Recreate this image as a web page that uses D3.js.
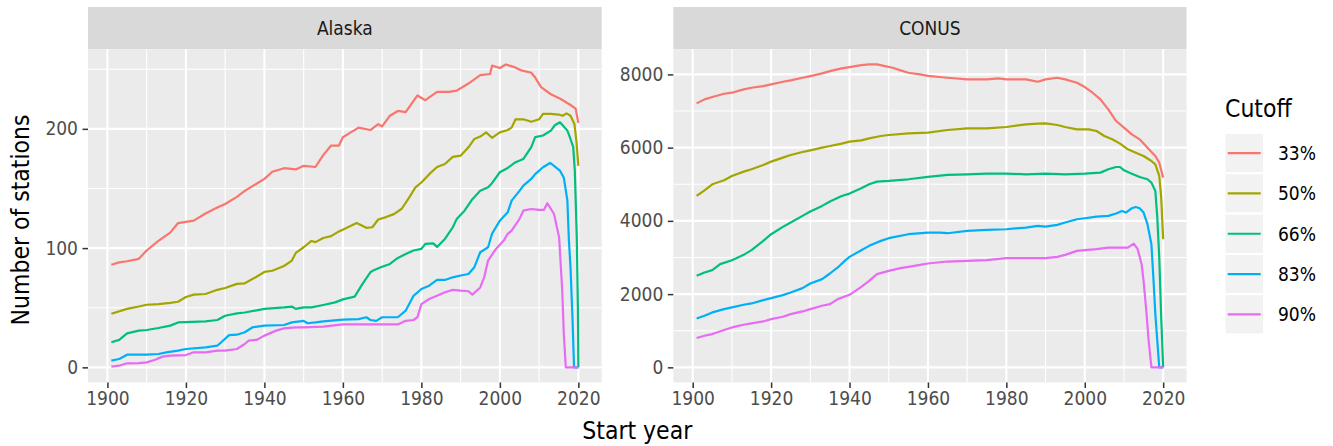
<!DOCTYPE html>
<html>
<head>
<meta charset="utf-8">
<script src="https://cdn.jsdelivr.net/npm/d3@7"></script>
<style>
  body { margin: 0; background: #fff; }
  svg text { font-family: "DejaVu Sans Condensed", "DejaVu Sans", sans-serif; font-stretch: condensed; }
</style>
</head>
<body>
<svg id="chart" width="1333" height="446"></svg>
<script>
// ---- data ----
const cutoffs = ["33%", "50%", "66%", "83%", "90%"];
const cutoffColors = ["#F8766D", "#A3A500", "#00BF7D", "#00B0F6", "#E76BF3"];
const regions = ["Alaska", "CONUS"];
const xTicks = [1900, 1920, 1940, 1960, 1980, 2000, 2020];
const alaskaYTicks = [0, 100, 200];
const conusYTicks = [0, 2000, 4000, 6000, 8000];

const alaska33 = [[1901,86],[1903,88],[1905,89],[1908,91],[1910,98],[1913,106],[1916,113],[1918,121],[1920,122],[1922,123],[1925,129],[1928,134],[1930,137],[1933,143],[1935,148],[1938,154],[1940,158],[1942,164],[1945,167],[1948,166],[1950,169],[1953,168],[1955,178],[1957,186],[1959,186],[1960,193],[1962,197],[1964,201],[1967,199],[1969,204],[1970,202],[1972,211],[1974,215],[1976,214],[1979,228],[1981,224],[1984,231],[1987,231],[1989,232],[1992,238],[1995,245],[1997.5,246],[1998,253],[2000,251],[2001.5,254],[2003.5,252],[2005.5,249],[2008,247],[2009,243],[2010.5,235],[2013,229],[2015.5,225],[2018,220],[2019.3,217],[2020,205]];
const alaska50 = [[1901,45],[1905,49],[1908,51],[1910,52.5],[1913,53],[1916,54],[1918,55],[1920,59],[1922,61],[1925,61.5],[1928,65],[1930,66.5],[1933,70],[1935,70.5],[1938,76],[1940,80],[1942,81],[1945,85],[1947,89.5],[1948,96],[1950,100.7],[1952,106],[1953,105],[1955,108.5],[1957,110],[1959,114],[1961,117],[1963.5,121],[1966,117],[1967.5,117.5],[1969,124],[1971,126],[1973,128.5],[1975,133],[1977,143],[1978.5,151],[1980,155],[1982,162],[1984,168],[1986,170.5],[1988,176.5],[1990,177.5],[1992,184.5],[1993.5,191.5],[1995,193.5],[1996.5,197],[1998,192.5],[2000,197],[2002,199],[2003,201],[2004,208],[2006,208],[2008,206],[2010,208],[2011,212.5],[2013,212.5],[2015,212],[2016,211],[2017,213],[2018,211],[2019,204],[2019.5,190],[2020,169]];
const alaska66 = [[1901,21],[1903,23],[1905,28.5],[1908,30.8],[1910,31.3],[1913,33],[1916,35],[1918,37.7],[1925,38.6],[1928,39.7],[1930,43.3],[1933,45.3],[1935,46],[1940,49],[1945,50.3],[1947,51],[1948,49],[1950,50.3],[1952,50.3],[1955,52.3],[1958,54.5],[1960,57],[1963,59.3],[1965,70],[1967,79.7],[1968,81.7],[1970,84.4],[1972,86.7],[1974,91.7],[1976,95],[1978,98],[1980,99.3],[1981,103.5],[1983,104],[1984,101],[1986,107.7],[1988,117.4],[1989,124.4],[1991,131.4],[1993,141],[1995,148],[1997,151],[1998,154.4],[2000,163.6],[2002,167.2],[2004,172],[2006,174.8],[2008,184.6],[2009,193],[2011,194.4],[2013,198.5],[2014,203],[2015.3,205.5],[2016,203],[2017.2,198.5],[2018,191.5],[2018.7,184.6],[2019.1,165],[2019.6,109],[2019.9,47],[2020,0]];
const alaska83 = [[1901,5.6],[1903,7],[1905,10.6],[1910,10.6],[1913,11.2],[1915,12.6],[1918,14],[1920,15.4],[1925,16.8],[1928,18.2],[1929,21],[1931,27],[1933,27.4],[1935,29.4],[1937,33.6],[1940,35],[1945,35.5],[1947,37.7],[1950,39],[1951,37],[1953,37.7],[1955,38.6],[1960,40],[1964,40.5],[1966,42],[1967,39.7],[1968.5,39],[1970,42],[1974,42],[1976,47.5],[1978,60],[1980,65.7],[1982,68.5],[1984,73.3],[1986,73.3],[1988,75.5],[1990,77],[1992,78.3],[1993.5,84],[1995,96.5],[1997,100.7],[1998,112],[2000,123],[2002,130],[2003,139.8],[2005,148],[2006,152.4],[2008,158],[2009,162],[2011,167.8],[2012.8,171.4],[2013.8,169],[2015.3,165],[2016.3,159],[2017.2,140],[2017.6,106],[2018,84],[2018.5,42],[2018.9,0],[2020,0]];
const alaska90 = [[1901,0.6],[1903,1.4],[1905,3.4],[1908,3.6],[1910,4.2],[1912,6.2],[1914,9],[1916,9.8],[1920,10.3],[1922,12.6],[1925,12.6],[1928,14],[1930,14],[1933,15.4],[1935,19.6],[1936,22.4],[1938,23],[1940,26.6],[1943,30.8],[1945,32.7],[1948,33.6],[1950,33.6],[1955,34.1],[1960,36],[1965,36],[1974,36],[1976,39],[1978,39.7],[1979,42],[1980,53],[1982,57.3],[1984,60],[1986,63],[1988,65],[1990,64.3],[1992,63.8],[1993,61],[1995,67],[1996,75.5],[1997,89.5],[1999,99.3],[2001,106.3],[2002,112],[2003,114.7],[2005,124.4],[2006,131.4],[2008,132.8],[2010,132],[2011.2,132],[2012.1,137.6],[2013.8,128.6],[2015.1,109],[2015.5,86.7],[2015.9,64],[2016.3,28],[2016.8,0],[2020,0]];

const conus33 = [[1901,7209],[1903,7318],[1905,7382],[1908,7472],[1910,7500],[1913,7590],[1915,7636],[1918,7681],[1920,7727],[1923,7800],[1925,7836],[1928,7909],[1930,7954],[1933,8027],[1935,8090],[1938,8163],[1940,8200],[1943,8254],[1945,8272],[1947,8272],[1949,8227],[1951,8181],[1953,8109],[1955,8045],[1958,8000],[1960,7960],[1965,7909],[1970,7863],[1975,7863],[1978,7890],[1980,7863],[1985,7863],[1988,7800],[1990,7863],[1993,7909],[1995,7863],[1998,7772],[2000,7654],[2002,7500],[2004,7318],[2006,7045],[2008,6727],[2010,6545],[2012,6363],[2014,6227],[2016,6000],[2018,5772],[2019,5590],[2020,5181]];
const conus50 = [[1901,4681],[1903,4836],[1905,5000],[1908,5109],[1910,5227],[1913,5345],[1915,5409],[1918,5527],[1920,5618],[1923,5727],[1925,5800],[1928,5881],[1930,5927],[1933,6000],[1935,6045],[1938,6109],[1940,6163],[1943,6200],[1945,6254],[1948,6318],[1950,6345],[1955,6390],[1960,6409],[1965,6481],[1970,6527],[1975,6527],[1980,6563],[1985,6636],[1988,6654],[1990,6663],[1993,6618],[1995,6563],[1998,6500],[2001,6500],[2003,6454],[2005,6318],[2007,6227],[2009,6109],[2011,5954],[2013,5863],[2015,5772],[2017,5636],[2018,5545],[2019,5227],[2019.5,4636],[2020,3500]];
const conus66 = [[1901,2500],[1903,2590],[1905,2654],[1907,2818],[1910,2927],[1913,3072],[1915,3200],[1918,3454],[1920,3636],[1923,3836],[1925,3954],[1928,4136],[1930,4254],[1933,4409],[1935,4527],[1938,4681],[1940,4745],[1943,4890],[1945,5000],[1947,5072],[1950,5090],[1955,5136],[1960,5200],[1965,5254],[1970,5272],[1975,5290],[1980,5290],[1985,5272],[1990,5290],[1995,5272],[2000,5290],[2004,5318],[2006,5409],[2008,5472],[2009,5472],[2010,5381],[2012,5290],[2014,5200],[2016,5136],[2017,5045],[2018,4818],[2018.5,4090],[2019,3000],[2019.5,1363],[2020,0]];
const conus83 = [[1901,1336],[1903,1409],[1905,1500],[1908,1590],[1910,1636],[1913,1709],[1915,1745],[1918,1836],[1920,1890],[1923,1972],[1925,2045],[1928,2163],[1930,2290],[1933,2409],[1935,2563],[1937,2727],[1939,2927],[1940,3018],[1943,3200],[1945,3318],[1948,3454],[1950,3527],[1955,3636],[1960,3681],[1963,3681],[1965,3663],[1970,3727],[1975,3754],[1980,3772],[1985,3818],[1988,3863],[1990,3845],[1993,3890],[1995,3954],[1998,4045],[2000,4072],[2003,4118],[2006,4136],[2008,4200],[2009.5,4272],[2010.5,4227],[2012,4345],[2013,4381],[2014,4345],[2015,4227],[2016,3909],[2017,3363],[2017.5,2454],[2018,1454],[2018.5,727],[2019,0],[2020,0]];
const conus90 = [[1901,800],[1903,864],[1905,909],[1908,1018],[1910,1090],[1913,1163],[1915,1200],[1918,1254],[1920,1318],[1923,1382],[1925,1454],[1928,1527],[1930,1590],[1933,1681],[1935,1727],[1937,1863],[1940,1981],[1943,2200],[1945,2363],[1947,2545],[1950,2636],[1953,2709],[1955,2745],[1958,2800],[1960,2836],[1965,2890],[1970,2909],[1975,2927],[1980,2981],[1985,2981],[1990,2981],[1993,3018],[1995,3072],[1998,3181],[2000,3200],[2003,3227],[2006,3272],[2009,3272],[2011,3272],[2012.5,3381],[2013.5,3227],[2014.5,2818],[2015,2363],[2015.7,1545],[2016.3,727],[2017,0],[2020,0]];

const seriesByRegion = {
  Alaska: [alaska33, alaska50, alaska66, alaska83, alaska90],
  CONUS: [conus33, conus50, conus66, conus83, conus90]
};
const yTicksByRegion = { Alaska: alaskaYTicks, CONUS: conusYTicks };

// ---- layout ----
const svg = d3.select("#chart");
const panelTop = 49.3, panelBottom = 382.5, stripTop = 7;
const panelX = { Alaska: [88, 601.7], CONUS: [673.3, 1186.5] };
const tickFont = 19, titleFont = 24.5;

// ggplot-style 5% expansion
function expand(ext) {
  const pad = (ext[1] - ext[0]) * 0.05;
  return [ext[0] - pad, ext[1] + pad];
}
function minors(ticks, domain) {
  const step = ticks[1] - ticks[0];
  const out = [];
  for (let v = ticks[0] - step / 2; v <= domain[1]; v += step) {
    if (v >= domain[0]) out.push(v);
  }
  return out;
}

const allYears = regions.flatMap(r => seriesByRegion[r].flatMap(s => s.map(d => d[0])));
const xDomain = expand(d3.extent(allYears));

regions.forEach(region => {
  const series = seriesByRegion[region];
  const [x0, x1] = panelX[region];
  const yMax = d3.max(series, s => d3.max(s, d => d[1]));
  const yDomain = expand([0, yMax]);

  const x = d3.scaleLinear().domain(xDomain).range([x0, x1]);
  const y = d3.scaleLinear().domain(yDomain).range([panelBottom, panelTop]);
  const yTicks = yTicksByRegion[region];

  const g = svg.append("g").attr("class", "panel");

  // strip
  g.append("rect")
    .attr("x", x0).attr("y", stripTop)
    .attr("width", x1 - x0).attr("height", panelTop - stripTop)
    .attr("fill", "#D9D9D9");
  g.append("text")
    .attr("x", (x0 + x1) / 2).attr("y", (stripTop + panelTop) / 2)
    .attr("dy", "0.36em")
    .attr("text-anchor", "middle")
    .attr("fill", "#1A1A1A")
    .style("font-size", tickFont + "px")
    .text(region);

  // panel background
  g.append("rect")
    .attr("x", x0).attr("y", panelTop)
    .attr("width", x1 - x0).attr("height", panelBottom - panelTop)
    .attr("fill", "#EBEBEB");

  // minor grid
  g.selectAll(".xminor").data(minors(xTicks, xDomain)).enter().append("line")
    .attr("x1", d => x(d)).attr("x2", d => x(d))
    .attr("y1", panelTop).attr("y2", panelBottom)
    .attr("stroke", "#fff").attr("stroke-width", 1.1);
  g.selectAll(".yminor").data(minors(yTicks, yDomain)).enter().append("line")
    .attr("x1", x0).attr("x2", x1)
    .attr("y1", d => y(d)).attr("y2", d => y(d))
    .attr("stroke", "#fff").attr("stroke-width", 1.1);

  // major grid
  g.selectAll(".xmajor").data(xTicks).enter().append("line")
    .attr("x1", d => x(d)).attr("x2", d => x(d))
    .attr("y1", panelTop).attr("y2", panelBottom)
    .attr("stroke", "#fff").attr("stroke-width", 2.1);
  g.selectAll(".ymajor").data(yTicks).enter().append("line")
    .attr("x1", x0).attr("x2", x1)
    .attr("y1", d => y(d)).attr("y2", d => y(d))
    .attr("stroke", "#fff").attr("stroke-width", 2.1);

  // lines
  const line = d3.line().x(d => x(d[0])).y(d => y(d[1]));
  g.selectAll(".series").data(series).enter().append("path")
    .attr("d", line)
    .attr("fill", "none")
    .attr("stroke", (d, i) => cutoffColors[i])
    .attr("stroke-width", 2.2)
    .attr("stroke-linejoin", "round");

  // axes
  const xAxis = g.append("g")
    .attr("transform", `translate(0,${panelBottom})`)
    .call(d3.axisBottom(x).tickValues(xTicks).tickFormat(d3.format("d")).tickSize(5.5).tickPadding(4));
  const yAxis = g.append("g")
    .attr("transform", `translate(${x0},0)`)
    .call(d3.axisLeft(y).tickValues(yTicks).tickFormat(d3.format("d")).tickSize(5.5).tickPadding(4.5));
  [xAxis, yAxis].forEach(ax => {
    ax.select(".domain").remove();
    ax.selectAll(".tick line").attr("stroke", "#333333").attr("stroke-width", 1.5);
    ax.selectAll(".tick text")
      .attr("fill", "#4D4D4D")
      .style("font-size", tickFont + "px")
      .style("font-family", null);
  });
  ax_fix(xAxis);
});

function ax_fix(ax) {
  ax.attr("font-family", null).attr("font-size", null);
}

// axis titles
svg.append("text")
  .attr("x", (panelX.Alaska[0] + panelX.CONUS[1]) / 2)
  .attr("y", 439)
  .attr("text-anchor", "middle")
  .attr("fill", "#000")
  .style("font-size", titleFont + "px")
  .text("Start year");

svg.append("text")
  .attr("transform", "translate(28.5,220) rotate(-90)")
  .attr("text-anchor", "middle")
  .attr("fill", "#000")
  .style("font-size", titleFont + "px")
  .text("Number of stations");

// legend
const legend = svg.append("g").attr("transform", "translate(1224.5,133)");
legend.append("text")
  .attr("x", 0.5).attr("y", -16)
  .attr("fill", "#000")
  .style("font-size", titleFont + "px")
  .text("Cutoff");

const keyH = 40.3, keyW = 39.5;
const keys = legend.selectAll(".key").data(cutoffs).enter().append("g")
  .attr("transform", (d, i) => `translate(0,${i * keyH})`);
keys.append("rect")
  .attr("width", keyW).attr("height", keyH)
  .attr("fill", "#F2F2F2").attr("stroke", "#fff").attr("stroke-width", 2);
keys.append("line")
  .attr("x1", 3.2).attr("x2", 36.2)
  .attr("y1", keyH / 2).attr("y2", keyH / 2)
  .attr("stroke", (d, i) => cutoffColors[i])
  .attr("stroke-width", 2.2);
keys.append("text")
  .attr("x", 53.5).attr("y", keyH / 2)
  .attr("dy", "0.36em")
  .attr("fill", "#000")
  .style("font-size", tickFont + "px")
  .text(d => d);
</script>
</body>
</html>
